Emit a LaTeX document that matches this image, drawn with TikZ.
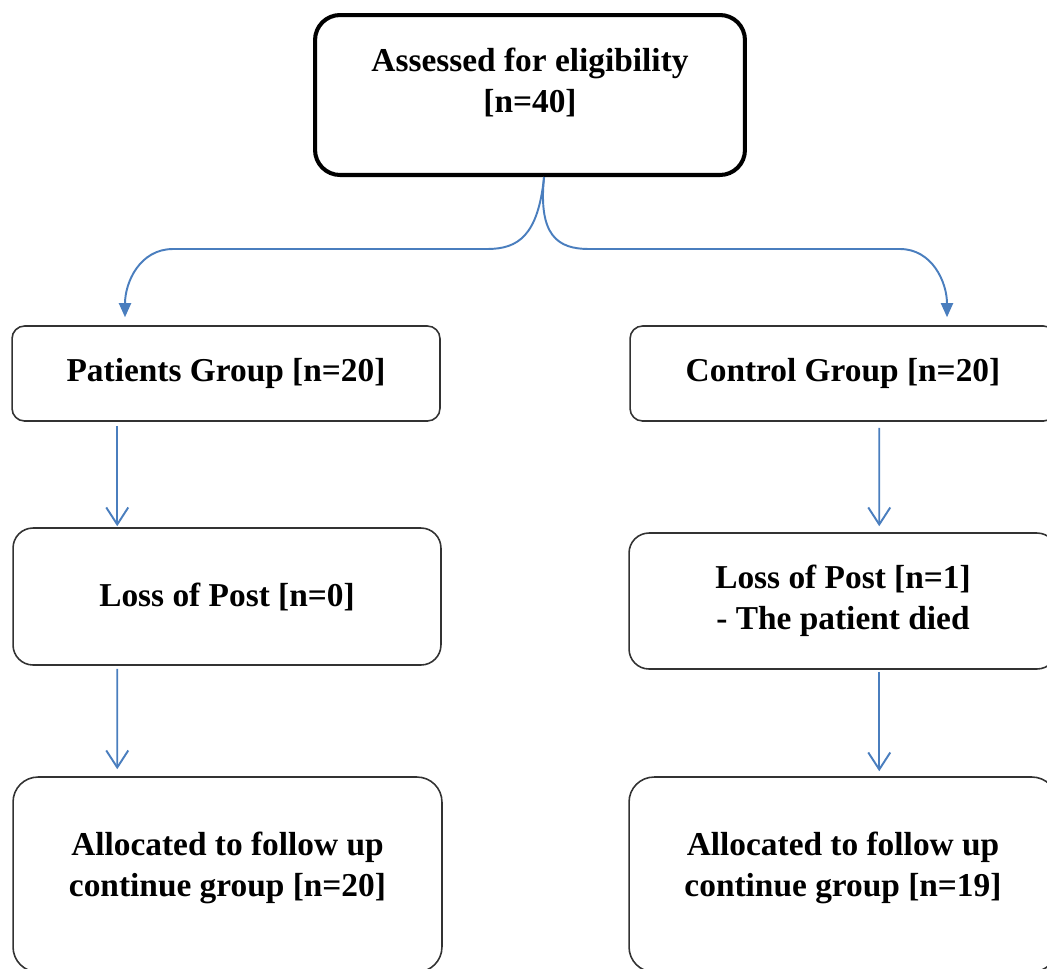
\documentclass[tikz,border=0pt]{standalone}
\usepackage{fontspec}
\setmainfont{Liberation Serif}
\usepackage{tikz}
\usetikzlibrary{arrows.meta}

\definecolor{flowblue}{RGB}{74,126,190}
\definecolor{boxline}{RGB}{50,50,50}

\begin{document}
\begin{tikzpicture}[x=0.02cm, y=-0.02cm,
    font=\fontsize{19}{23.5}\selectfont\bfseries,
    box/.style={draw=boxline, line width=0.9pt, align=center, inner sep=0pt},
    link/.style={draw=flowblue, line width=1.1pt},
    split/.style={link, -{Triangle[length=2.8mm, width=2.4mm]}},
    down/.style={link, -{Straight Barb[length=3.4mm, width=4.4mm, line width=1.1pt]}}]
        \useasboundingbox (0,0) rectangle (1047,968);
        \clip (0,0) rectangle (1047,968);

        \node[box, draw=black, line width=2.3pt, rounded corners=5mm,
              minimum width=8.6cm, minimum height=3.2cm, text depth=17pt]
              (assess) at (530,95) {Assessed for eligibility\\{}[n=40]};

        \node[box, rounded corners=2.5mm, minimum width=8.56cm, minimum height=1.9cm]
              (patients) at (226,373.5) {Patients Group [n=20]};
        \node[box, rounded corners=2.5mm, minimum width=8.52cm, minimum height=1.9cm]
              (control) at (843,373.5) {Control Group [n=20]};

        \node[box, rounded corners=4mm, minimum width=8.56cm, minimum height=2.74cm]
              (loss0) at (227,596.5) {Loss of Post [n=0]};
        \node[box, rounded corners=4mm, minimum width=8.56cm, minimum height=2.72cm]
              (loss1) at (843,601) {Loss of Post [n=1]\\- The patient died};

        \node[box, rounded corners=5mm, minimum width=8.58cm, minimum height=3.9cm, text depth=12pt]
              (alloc20) at (227.5,874.5) {Allocated to follow up\\continue group [n=20]};
        \node[box, rounded corners=5mm, minimum width=8.56cm, minimum height=3.9cm, text depth=12pt]
              (alloc19) at (843,874.5) {Allocated to follow up\\continue group [n=19]};

        % split below the first box
        \coordinate (stem) at ([xshift=8]assess.south);
        \coordinate (leftend) at ([shift={(-101,-8)}]patients.north);
        \coordinate (rightend) at ([shift={(104,-8)}]control.north);

        \draw[split] (stem) .. controls (538,236) and (518,249) .. (487,249)
            -- (173,249) .. controls (140,249) and (125,282) .. (leftend);
        \draw[split] (stem) .. controls (538,236) and (558,249) .. (589,249)
            -- (900,249) .. controls (932,249) and (947,282) .. (rightend);

        \draw[down] ([shift={(106,4)}]patients.south west) -- ([shift={(105,-1)}]loss0.north west);
        \draw[down] ([shift={(250,6)}]control.south west) -- ([shift={(251,-6)}]loss1.north west);
        \draw[down] ([shift={(105,3)}]loss0.south west) -- ([shift={(105,-7)}]alloc20.north west);
        \draw[down] ([shift={(251,2)}]loss1.south west) -- ([shift={(251,-5)}]alloc19.north west);
    \end{tikzpicture}
\end{document}
